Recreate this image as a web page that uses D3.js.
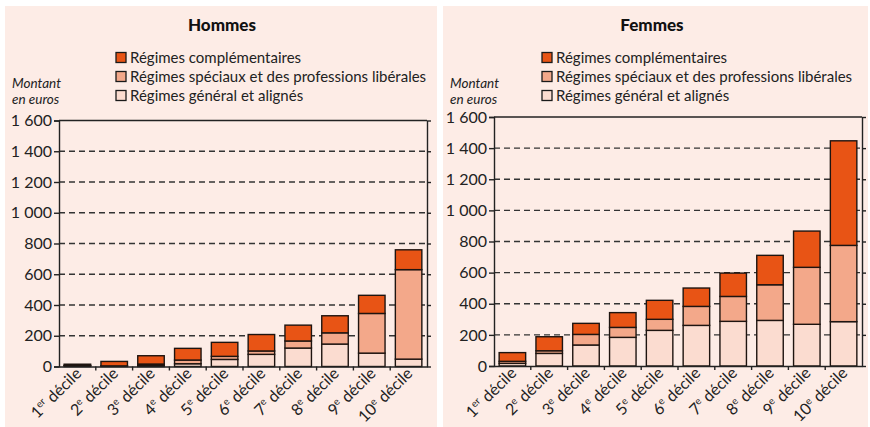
<!DOCTYPE html>
<html><head><meta charset="utf-8">
<script src="https://cdn.jsdelivr.net/npm/d3@7"></script>
<style>
body{margin:0;background:#fff;}
svg{display:block;font-family:Lato,"Open Sans",sans-serif;}
</style></head>
<body><svg id="c" width="870" height="427"></svg>
<script>
const deciles = ["1","2","3","4","5","6","7","8","9","10"];
const decileSup = ["er","e","e","e","e","e","e","e","e","e"];
const seriesNames = ["Régimes général et alignés","Régimes spéciaux et des professions libérales","Régimes complémentaires"];
const seriesKeys = ["general","speciaux","complementaires"];
const colors = ["#fbdcd0","#f3a88a","#e85415"];
const yTicks = [0,200,400,600,800,1000,1200,1400,1600];

const hommesGeneral = [5,3,8,18,46,79,120,146,87,48];
const hommesSpeciaux = [2,1,8,24,20,22,46,73,258,582];
const hommesComplementaires = [8,29,54,76,91,107,103,111,118,129];

const femmesGeneral = [17,81,135,184,229,261,287,293,268,285];
const femmesSpeciaux = [13,17,68,64,71,122,160,229,366,490];
const femmesComplementaires = [56,90,71,95,122,118,150,189,233,672];

const svg = d3.select("#c");
const fmt = v => d3.format(",")(v).replace(/,/g," ");

function panel(cfg){
  const g = svg.append("g");
  g.append("rect").attr("x",cfg.px).attr("y",6).attr("width",cfg.pw).attr("height",421).attr("fill","#fdece6");
  g.append("text").attr("x",cfg.titleX).attr("y",31).attr("text-anchor","middle")
    .attr("font-weight","900").attr("font-size",17).attr("fill","#111").text(cfg.title);
  const order = [2,1,0];
  order.forEach((si,i)=>{
    const yy = 58 + i*19;
    g.append("rect").attr("x",cfg.legX).attr("y",yy-5.5).attr("width",10).attr("height",10)
      .attr("fill",colors[si]).attr("stroke","#1a1a1a").attr("stroke-width",1.3);
    g.append("text").attr("x",cfg.legX+14).attr("y",yy+5).attr("font-size",15).attr("fill","#222").text(seriesNames[si]);
  });
  g.append("text").attr("x",cfg.px+7).attr("y",88).attr("font-style","italic").attr("font-size",13.5).attr("fill","#222").text("Montant");
  g.append("text").attr("x",cfg.px+7).attr("y",104).attr("font-style","italic").attr("font-size",13.5).attr("fill","#222").text("en euros");

  const x = d3.scaleBand().domain(deciles).range([cfg.x0,cfg.x1]).paddingInner(0.28).paddingOuter(0.14);
  const y = d3.scaleLinear().domain([0,1600]).range([cfg.yb,cfg.yt]);

  g.append("g").selectAll("line").data(yTicks.filter(t=>t>0 && t<1600)).join("line")
    .attr("x1",cfg.x0).attr("x2",cfg.x1).attr("y1",d=>y(d)).attr("y2",d=>y(d))
    .attr("stroke","#333").attr("stroke-width",1.3).attr("stroke-dasharray","6,4");

  const rows = deciles.map((d,i)=>({decile:d, general:cfg.data[0][i], speciaux:cfg.data[1][i], complementaires:cfg.data[2][i]}));
  const stack = d3.stack().keys(seriesKeys)(rows);
  const bars = g.append("g");
  stack.forEach((s,si)=>{
    bars.append("g").selectAll("rect").data(s).join("rect")
      .attr("x",d=>x(d.data.decile)).attr("width",x.bandwidth())
      .attr("y",d=>y(d[1])).attr("height",d=>y(d[0])-y(d[1]))
      .attr("fill",colors[si]).attr("stroke","#1e1410").attr("stroke-width",1.4);
  });

  const yAxis = d3.axisLeft(y).tickValues(yTicks).tickFormat(fmt).tickSize(5).tickPadding(2);
  const ya = g.append("g").attr("transform",`translate(${cfg.x0},0)`).call(yAxis);
  ya.selectAll("text").attr("font-size",16).attr("fill","#222").attr("font-family","Lato,sans-serif");
  ya.selectAll("line,path").attr("stroke","#222").attr("stroke-width",1.4);
  const yr = g.append("g").attr("transform",`translate(${cfg.x1},0)`).call(d3.axisLeft(y).tickValues(yTicks).tickFormat("").tickSize(-4).tickSizeOuter(0));
  yr.selectAll("line,path").attr("stroke","#222").attr("stroke-width",1.4);
  g.append("line").attr("x1",cfg.x0).attr("x2",cfg.x1).attr("y1",cfg.yt).attr("y2",cfg.yt).attr("stroke","#222").attr("stroke-width",1.4);

  const xa = g.append("g").attr("transform",`translate(0,${cfg.yb})`)
    .call(d3.axisBottom(x).tickSize(0).tickFormat(""));
  xa.selectAll("path").attr("stroke","#222").attr("stroke-width",1.4);
  const bounds = d3.range(1,deciles.length).map(i=>cfg.x0 + (cfg.x1-cfg.x0)/deciles.length*i);
  g.append("g").selectAll("line").data(bounds).join("line")
    .attr("x1",d=>d).attr("x2",d=>d).attr("y1",cfg.yb).attr("y2",cfg.yb+4).attr("stroke","#222").attr("stroke-width",1.4);

  const lab = g.append("g").selectAll("text").data(deciles).join("text")
    .attr("transform",(d)=>`translate(${x(d)+x.bandwidth()/2+5},${cfg.yb+8}) rotate(-45)`)
    .attr("text-anchor","end").attr("font-size",16).attr("fill","#222");
  lab.each(function(d,i){
    const t = d3.select(this);
    t.append("tspan").text(d);
    t.append("tspan").attr("dy",-6).attr("font-size",10).text(decileSup[i]);
    t.append("tspan").attr("dy",6).text(" décile");
  });
}

panel({px:5,pw:432,title:"Hommes",titleX:222,legX:116,x0:59,x1:427,yt:120.5,yb:366.5,
  data:[hommesGeneral,hommesSpeciaux,hommesComplementaires]});
panel({px:443,pw:425,title:"Femmes",titleX:652,legX:542,x0:494,x1:862,yt:117,yb:366,
  data:[femmesGeneral,femmesSpeciaux,femmesComplementaires]});
</script>
</body></html>
